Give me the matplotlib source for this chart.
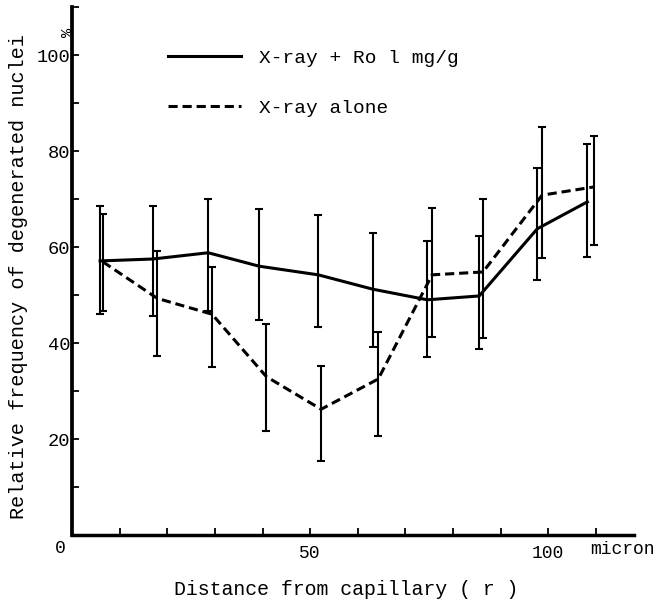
import matplotlib.pyplot as plt
from matplotlib.ticker import MultipleLocator

# distance from capillary (micron)
dist_ro = [5.9, 17.0, 28.6, 39.3, 51.7, 63.2, 74.6, 85.5, 97.7, 108.2]
freq_ro = [57.1, 57.5, 58.8, 56.0, 54.2, 51.2, 49.0, 49.8, 63.8, 69.4]
ro_low = [46.0, 45.6, 46.7, 44.8, 43.4, 39.2, 37.1, 38.8, 53.1, 57.9]
ro_high = [68.5, 68.5, 70.0, 68.0, 66.7, 63.0, 61.3, 62.3, 76.5, 81.5]

dist_alone = [6.5, 17.9, 29.4, 40.8, 52.3, 64.3, 75.6, 86.3, 98.7, 109.5]
freq_alone = [56.9, 49.3, 46.0, 33.0, 26.2, 32.5, 54.2, 54.8, 70.8, 72.5]
alone_low = [46.7, 37.3, 35.0, 21.7, 15.4, 20.6, 41.3, 41.0, 57.7, 60.4]
alone_high = [66.9, 59.2, 55.8, 44.0, 35.3, 42.3, 68.1, 70.0, 85.0, 83.1]

label_ro = 'X-ray + Ro l mg/g'
label_alone = 'X-ray alone'
x_ticks = [10, 20, 30, 40, 50, 60, 70, 80, 90, 100, 110]
x_ticklabels = ['', '', '', '', '50', '', '', '', '', '100', '']
y_ticks = [20, 40, 60, 80, 100]

plt.rcParams['font.family'] = ['Liberation Mono', 'DejaVu Sans']

fig = plt.figure(figsize=(6.61, 6.02), dpi=100)
ax = fig.add_axes([72 / 661, 67 / 602, 562 / 661, 528 / 602])

dash = (0, (3.0, 1.6))
line_ro, = ax.plot(dist_ro, freq_ro, color='black', lw=2.2, zorder=3)
line_alone, = ax.plot(dist_alone, freq_alone, color='black', lw=2.2,
                      linestyle=dash, zorder=3)

err_ro = [[m - lo for m, lo in zip(freq_ro, ro_low)],
          [hi - m for m, hi in zip(freq_ro, ro_high)]]
err_alone = [[m - lo for m, lo in zip(freq_alone, alone_low)],
             [hi - m for m, hi in zip(freq_alone, alone_high)]]
ax.errorbar(dist_ro, freq_ro, yerr=err_ro, fmt='none', ecolor='black',
            elinewidth=1.5, capsize=3.2, capthick=1.5)
ax.errorbar(dist_alone, freq_alone, yerr=err_alone, fmt='none', ecolor='black',
            elinewidth=1.5, capsize=3.2, capthick=1.5)

ax.set_xlim(0, 118)
ax.set_ylim(0, 110)
for side in ['top', 'right']:
    ax.spines[side].set_visible(False)
ax.spines['left'].set_linewidth(2.7)
ax.spines['bottom'].set_linewidth(2.5)

ax.set_xticks(x_ticks)
ax.set_xticklabels(x_ticklabels)
ax.tick_params(axis='x', direction='in', length=5, width=1.3, pad=7, labelsize=13)
ax.set_yticks(y_ticks)
ax.yaxis.set_minor_locator(MultipleLocator(10))
ax.tick_params(axis='y', which='both', direction='in', length=5, width=1.3,
               pad=1, labelsize=13.5)

ax.text(-2.5, -0.025, '0', transform=ax.get_xaxis_transform(), ha='center',
        va='center', fontsize=13, clip_on=False)
ax.text(115.5, -0.028, 'micron', transform=ax.get_xaxis_transform(), ha='center',
        va='center', fontsize=13, clip_on=False)
ax.text(-0.9, 104.8, '%', rotation=90, ha='center', va='center', fontsize=11,
        clip_on=False)

ax.text(0.4875, -0.104, 'Distance from capillary ( r )', transform=ax.transAxes,
        ha='center', va='center', fontsize=14.3)
ax.text(-0.096, 0.489, 'Relative frequency of degenerated nuclei',
        transform=ax.transAxes, rotation=90, ha='center', va='center',
        fontsize=14.5)

ax.legend([line_ro, line_alone], [label_ro, label_alone], loc='center left',
          bbox_to_anchor=(0.171, 0.856), frameon=False, fontsize=14,
          handlelength=3.75, handletextpad=0.9, labelspacing=1.65,
          borderpad=0, borderaxespad=0)

fig.savefig('out.png', dpi=100)
